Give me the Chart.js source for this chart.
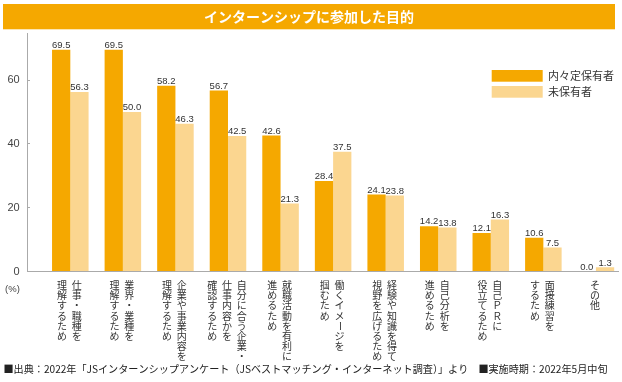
<!DOCTYPE html>
<html><head><meta charset="utf-8">
<script src="https://cdn.jsdelivr.net/npm/chart.js@4"></script>
<style>html,body{margin:0;padding:0;background:#fff}#wrap{width:622px;height:382px;position:relative}</style>
</head><body><div id="wrap"><canvas id="c"></canvas></div>
<script>
const titleText = 'インターンシップに参加した目的';
// each category label: columns of vertical text, right-most column first
const categories = [
  ['仕事・職種を', '理解するため'],
  ['業界・業種を', '理解するため'],
  ['企業や事業内容を', '理解するため'],
  ['自分に合う企業・', '仕事内容かを', '確認するため'],
  ['就職活動を有利に', '進めるため'],
  ['働くイメージを', '掴むため'],
  ['経験や知識を得て', '視野を広げるため'],
  ['自己分析を', '進めるため'],
  ['自己ＰＲに', '役立てるため'],
  ['面接練習を', 'するため'],
  ['その他']
];
const seriesNames = ['内々定保有者', '未保有者'];
const holders    = [69.5, 69.5, 58.2, 56.7, 42.6, 28.4, 24.1, 14.2, 12.1, 10.6, 0.0];
const nonHolders = [56.3, 50.0, 46.3, 42.5, 21.3, 37.5, 23.8, 13.8, 16.3, 7.5, 1.3];
const yTicks = [0, 20, 40, 60];
const unitLabel = '(%)';
const footerText = '■出典：2022年「JSインターンシップアンケート（JSベストマッチング・インターネット調査）」より　■実施時期：2022年5月中旬';

const ORANGE = '#F5A800';
const LIGHT = '#FBD690';
const JP = '"Noto Sans CJK JP", "Noto Sans", sans-serif';
const LAT = '"Liberation Sans", Arial, sans-serif';

const deco = {
  id: 'deco',
  beforeDraw(chart) {
    const ctx = chart.ctx, t = chart.titleBlock;
    if (!t) return;
    ctx.save();
    ctx.fillStyle = ORANGE;
    ctx.fillRect(t.left + 3, t.top + 4, t.width - 6, 25.3);
    ctx.restore();
  },
  afterDatasetsDraw(chart) {
    const ctx = chart.ctx;
    ctx.save();
    ctx.fillStyle = '#333';
    ctx.font = '9.5px ' + LAT;
    ctx.textAlign = 'center';
    ctx.textBaseline = 'alphabetic';
    chart.data.datasets.forEach((ds, di) => {
      const meta = chart.getDatasetMeta(di);
      meta.data.forEach((bar, i) => {
        ctx.fillText(ds.data[i].y.toFixed(1), bar.x, bar.y - 1.8);
      });
    });
    ctx.restore();
  },
  afterDraw(chart) {
    const ctx = chart.ctx, ca = chart.chartArea, xs = chart.scales.x;
    ctx.save();
    // vertical category labels
    const colPitch = 14.8, charPitch = 10.2;
    ctx.font = '10px ' + JP;
    ctx.fillStyle = '#333';
    ctx.textAlign = 'center';
    ctx.textBaseline = 'middle';
    categories.forEach((cols, i) => {
      const cx = xs.getPixelForValue(i) - 1;
      const n = cols.length;
      cols.forEach((col, j) => {
        const x = cx + ((n - 1) / 2 - j) * colPitch;
        [...col].forEach((ch, k) => {
          const y = ca.bottom + 13.8 + k * charPitch;
          if (ch === 'ー') {
            ctx.save(); ctx.translate(x, y); ctx.rotate(Math.PI / 2);
            ctx.fillText(ch, 0, 0); ctx.restore();
          } else if ('ッャュョァィゥェォっゃゅょ'.includes(ch)) {
            ctx.fillText(ch, x + 1.3, y - 1.3);
          } else {
            ctx.fillText(ch, x, y);
          }
        });
      });
    });
    // unit
    ctx.font = '9.5px ' + LAT;
    ctx.fillStyle = '#444';
    ctx.fillText(unitLabel, ca.left - 14.5, ca.bottom + 18);
    // legend
    const lx = ca.right - 126.3, ly = ca.top + 36.5;
    ctx.font = '11px ' + JP;
    ctx.textAlign = 'left';
    chart.data.datasets.forEach((ds, di) => {
      const y = ly + di * 16;
      ctx.fillStyle = ds.backgroundColor;
      ctx.fillRect(lx, y, 51, 11.7);
      ctx.fillStyle = '#333';
      ctx.fillText(ds.label, lx + 56.3, y + 6);
    });
    // footer
    ctx.font = '10.5px ' + JP;
    ctx.fillStyle = '#222';
    ctx.fillText(footerText, 3.5, chart.height - 12.5, 604);
    ctx.restore();
  }
};

new Chart(document.getElementById('c'), {
  type: 'bar',
  data: {
    datasets: [
      { label: seriesNames[0], data: holders.map((v, i) => ({ x: i, y: v })), backgroundColor: ORANGE, borderWidth: 0 },
      { label: seriesNames[1], data: nonHolders.map((v, i) => ({ x: i, y: v })), backgroundColor: LIGHT, borderWidth: 0 }
    ]
  },
  options: {
    responsive: true,
    maintainAspectRatio: false,
    animation: false,
    devicePixelRatio: 1,
    categoryPercentage: 0.695,
    barPercentage: 1.0,
    layout: { padding: { left: 0, right: 4, top: 0, bottom: 0 } },
    plugins: {
      legend: { display: false },
      tooltip: { enabled: false },
      title: {
        display: true, text: titleText, color: '#fff',
        font: { family: JP, size: 14, weight: 'bold', lineHeight: 25.3 / 14 },
        padding: { top: 4, bottom: 4.2 }
      }
    },
    scales: {
      x: {
        type: 'linear', min: -0.824, max: 10.42, offset: false,
        afterBuildTicks: s => { s.ticks = categories.map((c, i) => ({ value: i })); },
        afterFit: s => { s.height = 110.5; },
        ticks: { display: false },
        grid: { display: false },
        border: { display: true, color: '#aaa', width: 1 }
      },
      y: {
        type: 'linear', min: 0, max: 74.6,
        afterBuildTicks: s => { s.ticks = yTicks.map(v => ({ value: v })); },
        afterFit: s => { s.width = 27; },
        ticks: { color: '#444', font: { family: LAT, size: 11 }, padding: 10.3 },
        grid: { display: true, drawOnChartArea: false, drawTicks: true, tickLength: -3, color: '#aaa' },
        border: { display: true, color: '#aaa', width: 1 }
      }
    }
  },
  plugins: [deco]
});
</script></body></html>
